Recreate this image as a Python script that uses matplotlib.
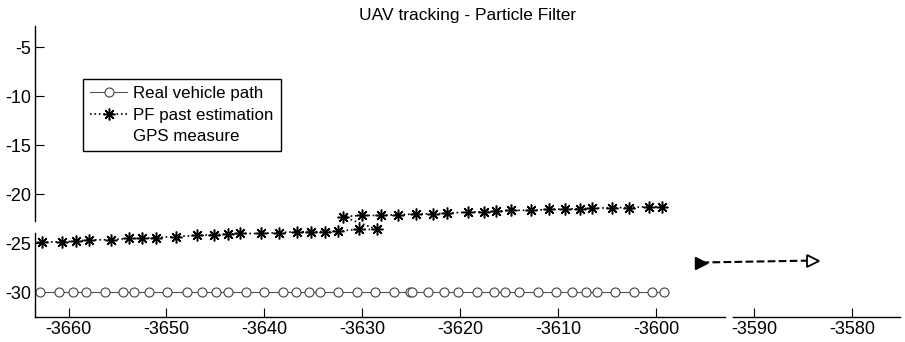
import numpy as np
import matplotlib.pyplot as plt

plt.rcParams['font.family'] = ['Liberation Sans', 'DejaVu Sans']
plt.rcParams['axes.unicode_minus'] = False

# Real vehicle path (y constant)
real_x = [-3662.9, -3661.0, -3659.5, -3658.2, -3656.3, -3654.4, -3653.3, -3651.8,
          -3649.9, -3647.9, -3646.4, -3644.9, -3643.7, -3641.9, -3640.0, -3638.1,
          -3636.8, -3635.5, -3634.3, -3632.5, -3630.6, -3628.7, -3626.8, -3625.1,
          -3624.9, -3623.3, -3621.7, -3620.2, -3618.3, -3616.6, -3615.4, -3614.0,
          -3612.1, -3610.2, -3608.6, -3607.2, -3606.1, -3604.2, -3602.3, -3600.4,
          -3599.2]
real_y = [-30.0] * len(real_x)

# PF past estimation
pf_x = [-3662.7, -3660.7, -3659.2, -3657.9, -3655.7, -3653.8, -3652.5, -3651.1,
        -3649.0, -3646.9, -3645.2, -3643.7, -3642.5, -3640.4, -3638.5, -3636.7,
        -3635.2, -3633.8, -3632.5, -3630.4, -3628.5,
        -3632.0, -3630.0, -3628.1, -3626.4, -3624.5, -3622.8, -3621.4, -3619.2,
        -3617.6, -3616.4, -3614.8, -3612.8, -3611.0, -3609.3, -3607.8, -3606.6,
        -3604.5, -3602.8, -3600.8, -3599.4]
pf_y = [-24.87, -24.87, -24.77, -24.66, -24.63, -24.51, -24.51, -24.41,
        -24.31, -24.20, -24.12, -24.05, -24.00, -24.00, -23.90, -23.82,
        -23.80, -23.80, -23.74, -23.59, -23.59,
        -22.27, -22.16, -22.16, -22.08, -22.01, -22.00, -21.94, -21.81,
        -21.79, -21.73, -21.63, -21.65, -21.55, -21.50, -21.47, -21.43,
        -21.37, -21.35, -21.27, -21.27]

# GPS measure (not drawn) and current estimate segment
gps_x = []
gps_y = []
seg_x = [-3595.4, -3584.0]
seg_y = [-26.96, -26.76]

xticks = [-3660, -3650, -3640, -3630, -3620, -3610, -3600, -3590, -3580]
yticks = [-30, -25, -20, -15, -10, -5]

fig = plt.figure(figsize=(9.05, 3.42), dpi=100)
ax = fig.add_axes([35 / 905, 25 / 342, 865 / 905, 291 / 342])

ax.plot(real_x, real_y, '-', color='#555555', lw=0.8, marker='o', ms=6.5,
        mfc='white', mec='#444444', mew=0.8, label='Real vehicle path')
ax.plot(pf_x, pf_y, ':', color='black', lw=1.2, marker=(8, 2, 0), ms=8.5,
        mec='black', mew=1.1, label='PF past estimation')
ax.plot(gps_x, gps_y, linestyle='none', label='GPS measure')

ax.plot(seg_x, seg_y, '--', color='black', lw=1.5)
ax.plot(seg_x[:1], seg_y[:1], '>', color='black', ms=8)
ax.plot(seg_x[1:], seg_y[1:], '>', mfc='white', mec='black', mew=1.3, ms=8)

ax.set_xlim(-3663.42, -3575.13)
ax.set_ylim(-32.52, -2.83)
ax.set_xticks(xticks)
ax.set_yticks(yticks)
ax.tick_params(direction='in', length=6.5, width=0.8, labelsize=13, pad=3)

# axis lines with small breaks, as in the original picture
for s in ax.spines.values():
    s.set_visible(False)
ytr = ax.get_yaxis_transform()
xtr = ax.get_xaxis_transform()
ax.plot([0, 0], [-32.52, -23.98], color='black', lw=1, transform=ytr, clip_on=False)
ax.plot([0, 0], [-22.75, -2.83], color='black', lw=1, transform=ytr, clip_on=False)
ax.plot([-3663.42, -3593.0], [0, 0], color='black', lw=1, transform=xtr, clip_on=False)
ax.plot([-3592.2, -3575.13], [0, 0], color='black', lw=1, transform=xtr, clip_on=False)

ax.set_title('UAV tracking - Particle Filter', fontsize=12.5, pad=4)

leg = ax.legend(loc='upper left', bbox_to_anchor=(83 / 905, 1 - 79 / 342),
                bbox_transform=fig.transFigure, borderaxespad=0, fontsize=12.2,
                fancybox=False, framealpha=1, edgecolor='black',
                handlelength=2.2, handletextpad=0.35, labelspacing=0.38,
                borderpad=0.42)
leg.get_frame().set_linewidth(1)

fig.savefig('out.png', dpi=100)
